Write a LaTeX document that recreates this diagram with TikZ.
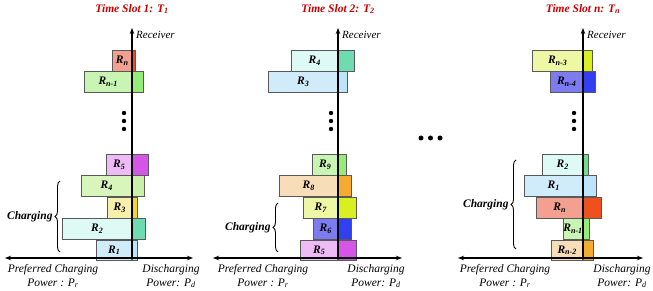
\documentclass[tikz,border=0pt]{standalone}
\usepackage{fontspec}
\setmainfont{Liberation Serif}
\usetikzlibrary{arrows.meta,positioning,decorations.pathreplacing}
\definecolor{salmonL}{HTML}{F4A090}
\definecolor{salmonD}{HTML}{EE5020}
\definecolor{greenL}{HTML}{C8F5B4}
\definecolor{greenD}{HTML}{96EC78}
\definecolor{lilacL}{HTML}{EEBBF6}
\definecolor{lilacD}{HTML}{D455E6}
\definecolor{leafL}{HTML}{D8F6BC}
\definecolor{leafD}{HTML}{C8F0A8}
\definecolor{lemonL}{HTML}{F6F0AA}
\definecolor{lemonD}{HTML}{F4D232}
\definecolor{aquaL}{HTML}{DDFBF4}
\definecolor{aquaD}{HTML}{6EDCB0}
\definecolor{mintD}{HTML}{70DC90}
\definecolor{skyL}{HTML}{D0ECFA}
\definecolor{skyD}{HTML}{BCE4FA}
\definecolor{peachL}{HTML}{F8DEB8}
\definecolor{peachD}{HTML}{F5AA34}
\definecolor{limeL}{HTML}{EEF8A4}
\definecolor{limeD}{HTML}{D8F020}
\definecolor{indigoL}{HTML}{7C7CF0}
\definecolor{indigoD}{HTML}{3040F0}
\definecolor{slotred}{HTML}{CC0000}

\begin{document}
\begin{tikzpicture}[x=1pt, y=-1pt,
  font=\fontsize{11}{13.5}\selectfont, >={Stealth[length=6pt,width=4.5pt]},
  lbar/.style={draw=black!65, line width=0.6pt, minimum height=20.8pt, inner sep=0pt,
    anchor=north east, font=\fontsize{11.5}{13}\selectfont\bfseries\itshape},
  rbar/.style={draw=black!65, line width=0.6pt, minimum height=20.8pt, inner sep=0pt, anchor=north west},
  axis/.style={line width=1.1pt},
  slot/.style={text=slotred, font=\fontsize{11.5}{13}\selectfont\bfseries\itshape},
  recv/.style={anchor=west, inner sep=0pt, font=\fontsize{11}{13}\selectfont\itshape},
  axlab/.style={align=center, inner sep=0pt, font=\fontsize{11.5}{14}\selectfont\itshape},
  chg/.style={left=7pt, inner sep=0pt, font=\fontsize{11.5}{13}\selectfont\bfseries\itshape},
  brace/.style={decorate, decoration={brace, amplitude=5pt}, line width=0.9pt}]
\useasboundingbox (0,0) rectangle (653,291);

% time slot 1
\node[slot] (t1) at (132,9) {Time Slot 1: T\textsubscript{1}};
\node[lbar, fill=salmonL, minimum width=19pt] (p1rn) at (132,50) {R\textsubscript{n}};
\node[rbar, fill=salmonD, minimum width=3pt] (p1rnd) at (p1rn.north east) {};
\node[lbar, fill=greenL, minimum width=47pt] (p1rm) at (p1rn.south east) {R\textsubscript{n-1}};
\node[rbar, fill=greenD, minimum width=11pt] (p1rmd) at (p1rm.north east) {};
\node[lbar, fill=lilacL, minimum width=25pt] (p1r5) at (132,154) {R\textsubscript{5}};
\node[rbar, fill=lilacD, minimum width=16pt] (p1r5d) at (p1r5.north east) {};
\node[lbar, fill=leafL, minimum width=50pt] (p1r4) at (p1r5.south east) {R\textsubscript{4}};
\node[rbar, fill=leafD, minimum width=12pt] (p1r4d) at (p1r4.north east) {};
\node[lbar, fill=lemonL, minimum width=24pt] (p1r3) at (p1r4.south east) {R\textsubscript{3}};
\node[rbar, fill=lemonD, minimum width=5pt] (p1r3d) at (p1r3.north east) {};
\node[lbar, fill=aquaL, minimum width=69pt] (p1r2) at (p1r3.south east) {R\textsubscript{2}};
\node[rbar, fill=aquaD, minimum width=13pt] (p1r2d) at (p1r2.north east) {};
\node[lbar, fill=skyL, minimum width=35pt] (p1r1) at (p1r2.south east) {R\textsubscript{1}};
\node[rbar, fill=skyD, minimum width=5pt] (p1r1d) at (p1r1.north east) {};
\coordinate (p1o) at (132,259);
\coordinate (p1top) at (132,28);
\coordinate (p1l) at (5,258);
\coordinate (p1r) at (193,258);
\draw[axis, ->] (p1o) -- (p1top);
\draw[axis, <->] (p1l) -- (p1r);
\node[recv] (p1rcv) at (136,35) {Receiver};
\foreach \y in {113,121,129} \fill (124,\y) circle (2.2pt);
\coordinate (p1b1) at (60,252);
\coordinate (p1b2) at (60,181);
\draw[brace] (p1b1) -- node[chg] (p1chg) {Charging} (p1b2);
\node[axlab] (p1pc) at (53,276) {Preferred Charging\\Power : P\textsubscript{r}};
\node[axlab] (p1pd) at (171,276) {Discharging\\Power: P\textsubscript{d}};

% time slot 2
\node[slot] (t2) at (338,9) {Time Slot 2: T\textsubscript{2}};
\node[lbar, fill=aquaL, minimum width=46pt] (p2r4) at (338,50) {R\textsubscript{4}};
\node[rbar, fill=aquaD, minimum width=16pt] (p2r4d) at (p2r4.north east) {};
\node[lbar, fill=skyL, minimum width=69pt] (p2r3) at (p2r4.south east) {R\textsubscript{3}};
\node[rbar, fill=skyD, minimum width=9pt] (p2r3d) at (p2r3.north east) {};
\node[lbar, fill=greenL, minimum width=25pt] (p2r9) at (338,154) {R\textsubscript{9}};
\node[rbar, fill=greenD, minimum width=8pt] (p2r9d) at (p2r9.north east) {};
\node[lbar, fill=peachL, minimum width=58pt] (p2r8) at (p2r9.south east) {R\textsubscript{8}};
\node[rbar, fill=peachD, minimum width=13pt] (p2r8d) at (p2r8.north east) {};
\node[lbar, fill=limeL, minimum width=34pt] (p2r7) at (p2r8.south east) {R\textsubscript{7}};
\node[rbar, fill=limeD, minimum width=18pt] (p2r7d) at (p2r7.north east) {};
\node[lbar, fill=indigoL, minimum width=24pt] (p2r6) at (p2r7.south east) {R\textsubscript{6}};
\node[rbar, fill=indigoD, minimum width=13pt] (p2r6d) at (p2r6.north east) {};
\node[lbar, fill=lilacL, minimum width=37pt] (p2r5) at (p2r6.south east) {R\textsubscript{5}};
\node[rbar, fill=lilacD, minimum width=18pt] (p2r5d) at (p2r5.north east) {};
\coordinate (p2o) at (338,259);
\coordinate (p2top) at (338,28);
\coordinate (p2l) at (213,258);
\coordinate (p2r) at (402,258);
\draw[axis, ->] (p2o) -- (p2top);
\draw[axis, <->] (p2l) -- (p2r);
\node[recv] (p2rcv) at (342,35) {Receiver};
\foreach \y in {113,121,129} \fill (331,\y) circle (2.2pt);
\coordinate (p2b1) at (278,252);
\coordinate (p2b2) at (278,203);
\draw[brace] (p2b1) -- node[chg] (p2chg) {Charging} (p2b2);
\node[axlab] (p2pc) at (263,276) {Preferred Charging\\Power : P\textsubscript{r}};
\node[axlab] (p2pd) at (376,276) {Discharging\\Power: P\textsubscript{d}};

% dots between slots
\foreach \x in {421,430.5,440} \fill (\x,138) circle (2.5pt);

% time slot n
\node[slot] (tn) at (583,9) {Time Slot n: T\textsubscript{n}};
\node[lbar, fill=limeL, minimum width=50pt] (p3rc) at (583,50) {R\textsubscript{n-3}};
\node[rbar, fill=limeD, minimum width=9pt] (p3rcd) at (p3rc.north east) {};
\node[lbar, fill=indigoL, minimum width=32pt] (p3rd) at (p3rc.south east) {R\textsubscript{n-4}};
\node[rbar, fill=indigoD, minimum width=12pt] (p3rdd) at (p3rd.north east) {};
\node[lbar, fill=aquaL, minimum width=40pt] (p3r2) at (583,154) {R\textsubscript{2}};
\node[rbar, fill=mintD, minimum width=5pt] (p3r2d) at (p3r2.north east) {};
\node[lbar, fill=skyL, minimum width=58pt] (p3r1) at (p3r2.south east) {R\textsubscript{1}};
\node[rbar, fill=skyD, minimum width=13pt] (p3r1d) at (p3r1.north east) {};
\node[lbar, fill=salmonL, minimum width=46pt] (p3rn) at (p3r1.south east) {R\textsubscript{n}};
\node[rbar, fill=salmonD, minimum width=18pt] (p3rnd) at (p3rn.north east) {};
\node[lbar, fill=greenL, minimum width=18pt] (p3rm) at (p3rn.south east) {R\textsubscript{n-1}};
\node[rbar, fill=greenD, minimum width=6pt] (p3rmd) at (p3rm.north east) {};
\node[lbar, fill=peachL, minimum width=31pt] (p3rb) at (p3rm.south east) {R\textsubscript{n-2}};
\node[rbar, fill=peachD, minimum width=10pt] (p3rbd) at (p3rb.north east) {};
\coordinate (p3o) at (583,259);
\coordinate (p3top) at (583,28);
\coordinate (p3l) at (458,258);
\coordinate (p3r) at (643,258);
\draw[axis, ->] (p3o) -- (p3top);
\draw[axis, <->] (p3l) -- (p3r);
\node[recv] (p3rcv) at (587,35) {Receiver};
\foreach \y in {113,121,129} \fill (574,\y) circle (2.2pt);
\coordinate (p3b1) at (516,249);
\coordinate (p3b2) at (516,160);
\draw[brace] (p3b1) -- node[chg] (p3chg) {Charging} (p3b2);
\node[axlab] (p3pc) at (505,276) {Preferred Charging\\Power : P\textsubscript{r}};
\node[axlab] (p3pd) at (622,276) {Discharging\\Power: P\textsubscript{d}};
\end{tikzpicture}
\end{document}
